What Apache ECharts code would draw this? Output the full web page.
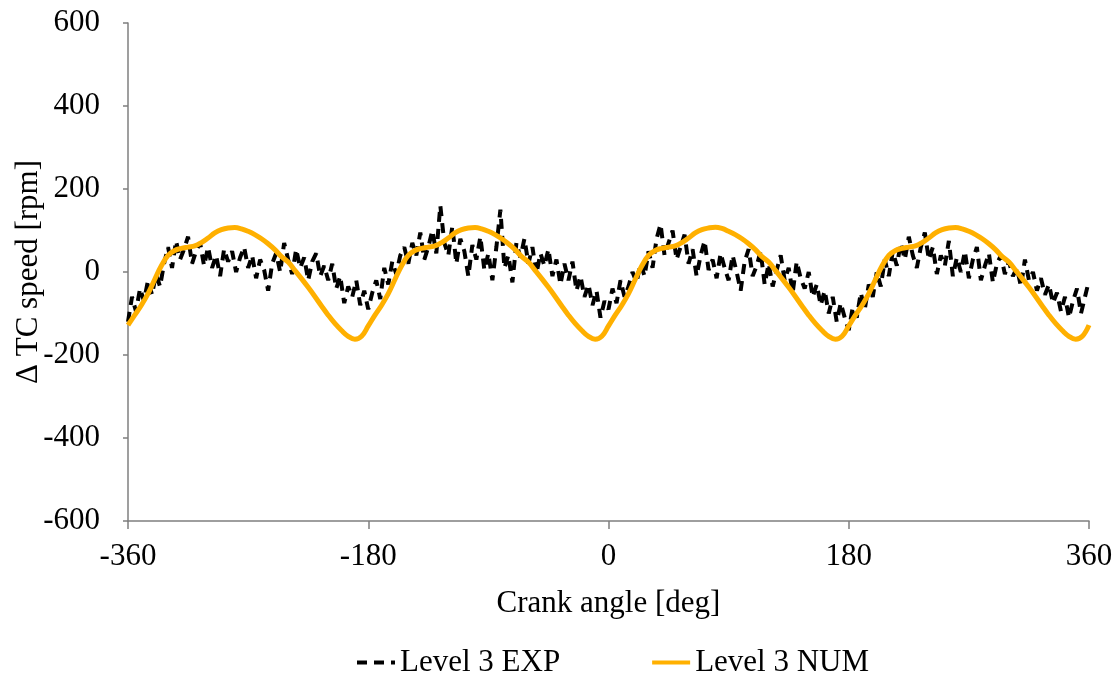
<!DOCTYPE html>
<html>
<head>
<meta charset="utf-8">
<script src="https://cdn.jsdelivr.net/npm/echarts@6/dist/echarts.min.js"></script>
<style>
html,body{margin:0;padding:0;background:#fff;}
#chart{width:1119px;height:678px;}
</style>
</head>
<body>
<div id="chart"></div>
<script>
// Crank angle sampling for the experimental trace: -360..360 step 3 deg
const expStart = -360, expStep = 3;
const expValues = [
  -120, -60, -95, -40, -70, -20, -55, -5, -35, 20,
  60, 10, 75, 30, 55, 85, 20, 50, 70, 15,
  60, 10, 40, -10, 55, 25, 50, 0, 35, 60,
  10, 40, -15, 30, 5, -45, 20, 45, 0, 70,
  30, -5, 55, 10, 35, -20, 25, 45, -10, 15,
  -20, 20, -40, -10, -75, -35, -60, -20, -80, -45,
  -90, -50, -20, -65, 10, -30, 25, -5, 40, 60,
  20, 70, 40, 95, 30, 60, 100, 45, 160, 70,
  40, 110, 20, 80, 50, -10, 65, 30, 85, 5,
  45, -20, 60, 150, 10, 40, -25, 70, 35, 80,
  20, 60, -5, 45, 15, 55, -10, 30, -30, 20,
  -20, 25, -45, -10, -60, -30, -80, -45, -110, -70,
  -90, -40, -75, -20, -60, -35, 0, -25, 20, -10,
  50, 10, 80, 115, 40, 70, 100, 30, 60, 90,
  20, 55, -10, 40, 75, 5, 30, -15, 45, 10,
  -20, 40, 0, -45, 25, 55, -10, 15, 50, -30,
  20, -35, 5, 40, -20, 10, -50, 25, -15, -40,
  0, -60, -30, -80, -45, -100, -60, -120, -75, -110,
  -140, -85, -110, -50, -90, -30, -60, 0, -35, 30,
  -10, 50, 15, 70, 30, 85, 40, 10, 60, 95,
  30, 60, -5, 40, 15, 75, -10, 35, 0, 50,
  -15, 30, 60, -20, 15, 45, -25, 20, 40, -5,
  25, -10, 10, -35, 30, -20, 0, -45, -15, -55,
  -30, -75, -50, -95, -60, -110, -70, -40, -100, -60,
  -20
];

// Numerical trace: -360..360 step 5 deg
const numStart = -360, numStep = 5;
const numValues = [
  -128, -104, -80, -52, -18, 15, 40, 52, 57, 60, 63, 71, 82, 94, 102, 106, 107, 104, 98, 90, 80, 68, 54, 37, 24, 4, -16, -37, -59, -82, -104, -124, -141, -155, -162, -155,
  -130, -104, -80, -52, -18, 15, 40, 52, 57, 60, 63, 71, 82, 94, 102, 106, 107, 104, 98, 90, 80, 68, 54, 37, 24, 4, -16, -37, -59, -82, -104, -124, -141, -155, -162, -155,
  -130, -104, -80, -52, -18, 15, 40, 52, 57, 60, 63, 71, 82, 94, 102, 106, 108, 105, 98, 90, 80, 68, 54, 37, 24, 4, -16, -37, -59, -82, -104, -124, -141, -155, -162, -155,
  -130, -104, -80, -52, -18, 15, 40, 52, 57, 60, 63, 71, 82, 94, 102, 106, 107, 104, 98, 90, 80, 68, 54, 37, 24, 4, -16, -37, -59, -82, -104, -124, -141, -155, -162, -155,
  -128
];

const xTicks = [-360, -180, 0, 180, 360];
const yTicks = [-600, -400, -200, 0, 200, 400, 600];

const expData = expValues.map((v, i) => [expStart + i * expStep, v]);
const numData = numValues.map((v, i) => [numStart + i * numStep, v]);

const font = 'Liberation Serif, Times New Roman, serif';
const fs = 31;
const axisColor = '#7f7f7f';

const chart = echarts.init(document.getElementById('chart'), null, {renderer: 'canvas'});
chart.setOption({
  animation: false,
  backgroundColor: '#ffffff',
  grid: {left: 128, right: 30, top: 23, bottom: 157, containLabel: false, outerBoundsMode: 'none'},
  xAxis: {
    type: 'value',
    min: xTicks[0], max: xTicks[xTicks.length - 1], interval: 180,
    name: 'Crank angle [deg]',
    nameLocation: 'middle', nameGap: 67, nameMoveOverlap: false,
    nameTextStyle: {fontFamily: font, fontSize: fs, color: '#000'},
    axisLine: {show: true, onZero: false, lineStyle: {color: axisColor, width: 1.5}},
    axisTick: {show: true, length: 8, inside: false, lineStyle: {color: axisColor, width: 1.5}},
    axisLabel: {fontFamily: font, fontSize: fs, color: '#000', margin: 20},
    splitLine: {show: false}
  },
  yAxis: {
    type: 'value',
    min: yTicks[0], max: yTicks[yTicks.length - 1], interval: 200,
    name: 'Δ TC speed [rpm]',
    nameLocation: 'middle', nameGap: 84, nameRotate: 90, nameMoveOverlap: false,
    nameTextStyle: {fontFamily: font, fontSize: fs, color: '#000'},
    axisLine: {show: true, onZero: false, lineStyle: {color: axisColor, width: 1.5}},
    axisTick: {show: true, length: 5, inside: false, lineStyle: {color: axisColor, width: 1.5}},
    axisLabel: {fontFamily: font, fontSize: fs, color: '#000', margin: 28},
    splitLine: {show: false}
  },
  legend: {
    top: 642,
    left: 350,
    itemGap: 90,
    itemWidth: 38,
    itemHeight: 14,
    itemStyle: {opacity: 0},
    lineStyle: {width: 4},
    textStyle: {fontFamily: font, fontSize: fs, color: '#000'},
    data: ['Level 3 EXP', 'Level 3 NUM']
  },
  series: [
    {
      name: 'Level 3 EXP',
      type: 'line',
      data: expData,
      symbol: 'none',
      showSymbol: false,
      lineStyle: {color: '#000', width: 4, type: [10, 7]},
      itemStyle: {color: '#000'},
      z: 2
    },
    {
      name: 'Level 3 NUM',
      type: 'line',
      data: numData,
      symbol: 'none',
      showSymbol: false,
      smooth: 0.4,
      lineStyle: {color: '#FFB000', width: 5},
      itemStyle: {color: '#FFB000'},
      z: 3
    }
  ]
});
</script>
</body>
</html>
